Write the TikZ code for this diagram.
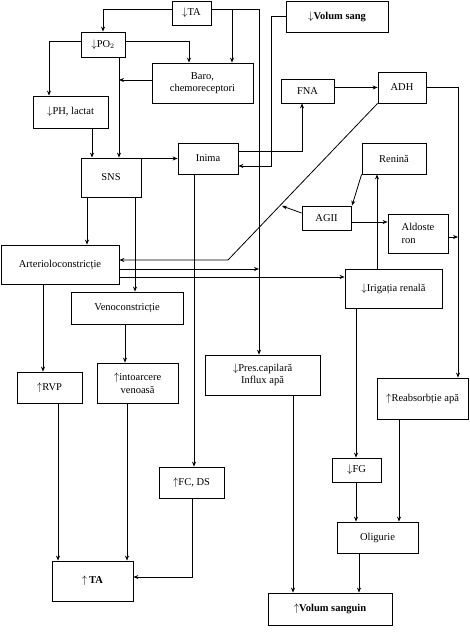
\documentclass[tikz,border=0pt]{standalone}
\usepackage{fontspec}
\setmainfont{Liberation Serif}
\usetikzlibrary{arrows.meta}
\tikzset{
    box/.style={draw, line width=0.8pt, inner sep=1pt, align=center,
        font=\fontsize{10.5}{12.5}\selectfont},
    arr/.style={line width=0.8pt, -{Stealth[length=5pt,width=4pt]}},
    ln/.style={line width=0.8pt}
}
\begin{document}
\begin{tikzpicture}[x=1pt, y=-1pt]
            \useasboundingbox (0,0) rectangle (469,636);
            %\draw[lightgray] (0,0) grid[step=50] (469,636);
            \node[box, minimum width=39pt, minimum height=24pt] (ta) at (191.5,13) {$\downarrow$TA};
            \node[box, minimum width=102pt, minimum height=31pt] (vsang) at (337,16.5) {$\downarrow$\textbf{Volum sang}};
            \node[box, minimum width=44pt, minimum height=25pt] (po2) at (103,44.5) {$\downarrow$PO$_2$};
            \node[box, minimum width=101pt, minimum height=40pt] (baro) at (202.5,83) {Baro,\\chemoreceptori};
            \node[box, minimum width=75pt, minimum height=32pt] (ph) at (70.5,112) {$\downarrow$PH, lactat};
            \node[box, minimum width=53pt, minimum height=24pt] (fna) at (307.5,91) {FNA};
            \node[box, minimum width=48pt, minimum height=31pt] (adh) at (402,87.5) {ADH};
            \node[box, minimum width=60pt, minimum height=39pt] (sns) at (111,177.5) {SNS};
            \node[box, minimum width=60pt, minimum height=31pt] (inima) at (208,158.5) {Inima};
            \node[box, minimum width=64pt, minimum height=31pt] (renina) at (394,158.5) {Renină};
            \node[box, minimum width=49pt, minimum height=24pt] (agii) at (326.5,218) {AGII};
            \node[box, minimum width=60pt, minimum height=39pt, align=left] (aldo) at (418,233.5) {Aldoste\\ron};
            \node[box, minimum width=118pt, minimum height=39pt] (arterio) at (60,264.5) {Arterioloconstricție};
            \node[box, minimum width=97pt, minimum height=39pt] (irig) at (393.5,288.5) {$\downarrow$Irigația renală};
            \node[box, minimum width=112pt, minimum height=32pt] (veno) at (127,308) {Venoconstricție};
            \node[box, minimum width=65pt, minimum height=31pt] (rvp) at (49.5,387.5) {$\uparrow$RVP};
            \node[box, minimum width=81pt, minimum height=40pt] (intoarc) at (137.5,383) {$\uparrow$intoarcere\\venoasă};
            \node[box, minimum width=115pt, minimum height=40pt] (pres) at (262.5,375) {$\downarrow$Pres.capilară\\Influx apă};
            \node[box, minimum width=91pt, minimum height=41pt] (reabs) at (422.5,398.5) {$\uparrow$Reabsorbție apă};
            \node[box, minimum width=65pt, minimum height=31pt] (fcds) at (191.5,482.5) {$\uparrow$FC,\ DS};
            \node[box, minimum width=49pt, minimum height=24pt] (fg) at (356.5,470) {$\downarrow$FG};
            \node[box, minimum width=81pt, minimum height=31pt] (olig) at (377.5,537.5) {Oligurie};
            \node[box, minimum width=81pt, minimum height=40pt] (tabot) at (92.5,581) {$\uparrow$\,\textbf{TA}};
            \node[box, minimum width=124pt, minimum height=32pt] (vsanguin) at (330,609) {$\uparrow$\textbf{Volum sanguin}};
            \draw[arr] (ta.west |- 0,9) -| (po2.north);
            \draw[arr] (ta.east |- 0,9) -| (259,0 |- pres.north);
            \draw[arr] (232,9) -- (232,0 |- baro.north);
            \draw[arr] (po2.west |- 0,41) -| (49,0 |- ph.north);
            \draw[arr] (po2.east |- 0,41) -| (189,0 |- baro.north);
            \draw[arr] (119,0 |- po2.south) -- (119,0 |- sns.north);
            \draw[arr] (baro.west |- 0,80) -- (119,80);
            \draw[arr] (92,0 |- ph.south) -- (92,0 |- sns.north);
            \draw[arr] (sns.east |- inima.west) -- (inima.west);
            \draw[arr] (inima.east |- 0,151) -| (302,0 |- fna.south);
            \draw[arr] (vsang.west) -| (271,166) -- (inima.east |- 0,166);
            \draw[arr] (fna.east |- adh.west) -- (adh.west);
            \draw[arr] (adh.east) -| (458,0 |- reabs.north);
            \draw[arr] (adh.south west) -- (228,260) -- (arterio.east |- 0,260);
            \draw[arr] (arterio.east |- 0,269) -- (259,269);
            \draw[arr] (arterio.east |- 0,277) -- (irig.west |- 0,277);
            \draw[arr] (377,0 |- irig.north) -- (377,0 |- renina.south);
            \draw[arr] (renina.south west) -- (352,0 |- agii.north);
            \draw[arr] (agii.west |- 0,213) -- (282,206);
            \draw[arr] (agii.east |- 0,222) -- (aldo.west |- 0,222);
            \draw[arr] (aldo.east |- 0,237) -- (458,237);
            \draw[arr] (87,0 |- sns.south) -- (87,0 |- arterio.north);
            \draw[arr] (135,0 |- sns.south) -- (135,0 |- veno.north);
            \draw[arr] (43,0 |- arterio.south) -- (43,0 |- rvp.north);
            \draw[arr] (125,0 |- veno.south) -- (125,0 |- intoarc.north);
            \draw[arr] (194,0 |- inima.south) -- (194,0 |- fcds.north);
            \draw[arr] (58,0 |- rvp.south) -- (58,0 |- tabot.north);
            \draw[arr] (127,0 |- intoarc.south) -- (127,0 |- tabot.north);
            \draw[arr] (192,0 |- fcds.south) |- (tabot.east |- 0,577);
            \draw[arr] (293,0 |- pres.south) -- (293,0 |- vsanguin.north);
            \draw[arr] (356,0 |- irig.south) -- (356,0 |- fg.north);
            \draw[arr] (356,0 |- fg.south) -- (356,0 |- olig.north);
            \draw[arr] (399,0 |- reabs.south) -- (399,0 |- olig.north);
            \draw[arr] (359,0 |- olig.south) -- (359,0 |- vsanguin.north);
\end{tikzpicture}
\end{document}
